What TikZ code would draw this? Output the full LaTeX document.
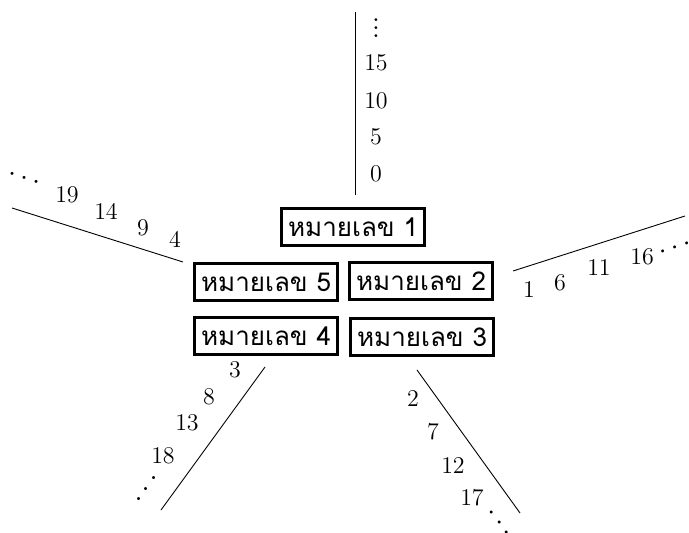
\documentclass[tikz,border=0pt]{standalone}
\usepackage{fontspec}
\newfontfamily\thaifont[Script=Thai]{Loma}
\tikzset{
  numbox/.style={draw, line width=1.5pt, font=\thaifont\fontsize{13}{16}\selectfont, inner xsep=3.5pt, inner ysep=2pt, minimum height=18.5pt},
  armlabel/.style={font=\large, inner sep=0pt},
  armdots/.style={font=\Large, inner sep=0pt},
  armline/.style={line width=0.45pt},
}
\begin{document}
\begin{tikzpicture}[x=0.5pt, y=-0.5pt]
  \useasboundingbox (0,0) rectangle (689,533);
  % numbered boxes
  \node[numbox] (b1) at (353,227) {หมายเลข 1};
  \node[numbox] (b2) at (421,281) {หมายเลข 2};
  \node[numbox] (b3) at (422,337) {หมายเลข 3};
  \node[numbox] (b4) at (266,336) {หมายเลข 4};
  \node[numbox] (b5) at (266,282) {หมายเลข 5};
  % arms
  \coordinate (up0) at (355,195);    \coordinate (up1) at (355,12);
  \coordinate (rt0) at (513,271);    \coordinate (rt1) at (685,216);
  \coordinate (dr0) at (417,370);    \coordinate (dr1) at (520,513);
  \coordinate (dl0) at (265,367);    \coordinate (dl1) at (161,510);
  \coordinate (lt0) at (183,262);    \coordinate (lt1) at (12,208);
  \foreach \arm in {up, rt, dr, dl, lt}
    \draw[armline] (\arm0) -- (\arm1);
  % numbers along the arms
  \foreach \x/\y/\lab in {
      376/174/0, 376/137/5, 376/101/10, 376/63/15,
      529/290/1, 560/283/6, 599/268/11, 642/257/16,
      413/399/2, 433/432/7, 453/466/12, 472/498/17,
      235/370/3, 209/397/8, 187/423/13, 163/456/18,
      175/240/4, 143/228/9, 106/212/14, 67/195/19}
    \node[armlabel] (n\lab) at (\x,\y) {$\lab$};
  % continuation dots
  \node[armdots] (dup) at (376,22) {$\vdots$};
  \foreach \x/\y/\ang/\arm in {675/248/18/rt, 499/523/-54/dr, 147/489/54/dl, 24/179/-18/lt}
    \node[armdots, rotate=\ang] (d\arm) at (\x,\y) {$\cdots$};
\end{tikzpicture}
\end{document}
